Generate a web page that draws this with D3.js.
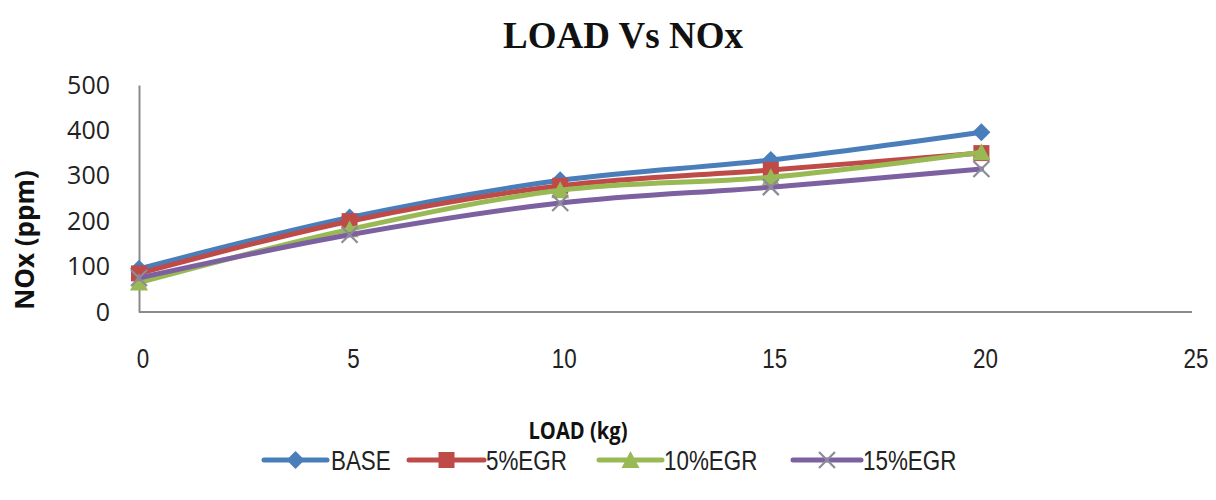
<!DOCTYPE html>
<html>
<head>
<meta charset="utf-8">
<script src="https://cdn.jsdelivr.net/npm/d3@7/dist/d3.min.js"></script>
<style>
  html, body { margin: 0; padding: 0; background: #fff; }
  svg { display: block; }
</style>
</head>
<body>
<svg id="chart" width="1216" height="500"></svg>
<script>
// Load on the engine (kg)
const loads = [0, 5, 10, 15, 20];

// NOx emissions (ppm) per operating mode
const base   = [95, 208, 290, 335, 396];
const egr5   = [85, 200, 278, 313, 350];
const egr10  = [65, 182, 268, 297, 352];
const egr15  = [75, 170, 240, 275, 315];

const seriesNames = ["BASE", "5%EGR", "10%EGR", "15%EGR"];
const xTicks = [0, 5, 10, 15, 20, 25];
const yTicks = [0, 100, 200, 300, 400, 500];

const seriesValues = [base, egr5, egr10, egr15];
const colors = ["#4A7EBB", "#BE4B48", "#98B954", "#7D60A0"];
const markerKinds = ["diamond", "square", "triangle", "cross"];

const svg = d3.select("#chart");

const x = d3.scaleLinear().domain([0, 25]).range([139, 1192]);
const y = d3.scaleLinear().domain([0, 500]).range([312, 85]);

// Title
svg.append("text")
  .attr("x", 623).attr("y", 48)
  .attr("text-anchor", "middle")
  .style("font-family", "'Liberation Serif', 'Times New Roman', serif")
  .style("font-weight", "bold")
  .style("font-size", "37px")
  .attr("fill", "#111")
  .text("LOAD Vs NOx");

// Y axis with labels
const yAxis = d3.axisLeft(y).tickValues(yTicks).tickSize(0).tickPadding(29);
const gy = svg.append("g").attr("transform", `translate(${x(0)},0)`).call(yAxis);
gy.select(".domain").attr("stroke", "#8a8a8a").attr("stroke-width", 2);
gy.selectAll("text")
  .style("font-family", "'Open Sans', 'Liberation Sans', sans-serif")
  .style("font-size", "25px")
  .attr("fill", "#222");

// X axis line
svg.append("line")
  .attr("x1", x(0)).attr("x2", x(25))
  .attr("y1", y(0)).attr("y2", y(0))
  .attr("stroke", "#8a8a8a").attr("stroke-width", 2);

// X tick labels (condensed)
svg.append("g").selectAll("text")
  .data(xTicks)
  .join("text")
  .attr("transform", d => `translate(${x(d) + 4},368) scale(0.8,1)`)
  .attr("text-anchor", "middle")
  .style("font-family", "'Liberation Sans', sans-serif")
  .style("font-size", "28px")
  .attr("fill", "#222")
  .text(d => d);

// Axis titles
svg.append("text")
  .attr("transform", `translate(578,439) scale(0.84,1)`)
  .attr("text-anchor", "middle")
  .style("font-family", "'Open Sans', 'Liberation Sans', sans-serif")
  .style("font-weight", "bold")
  .style("font-size", "24px")
  .attr("fill", "#111")
  .text("LOAD (kg)");

svg.append("text")
  .attr("transform", `translate(34,240) rotate(-90)`)
  .attr("text-anchor", "middle")
  .style("font-family", "'Open Sans', 'Liberation Sans', sans-serif")
  .style("font-weight", "bold")
  .style("font-size", "26px")
  .attr("fill", "#111")
  .text("NOx (ppm)");

// Marker drawing
function drawMarker(g, kind, color, cx, cy) {
  if (kind === "diamond") {
    g.append("path")
      .attr("d", `M${cx},${cy - 9}L${cx + 9},${cy}L${cx},${cy + 9}L${cx - 9},${cy}Z`)
      .attr("fill", color);
  } else if (kind === "square") {
    g.append("rect")
      .attr("x", cx - 8).attr("y", cy - 8).attr("width", 16).attr("height", 16)
      .attr("fill", color);
  } else if (kind === "triangle") {
    g.append("path")
      .attr("d", `M${cx},${cy - 9}L${cx + 9},${cy + 8}L${cx - 9},${cy + 8}Z`)
      .attr("fill", color);
  } else {
    g.append("path")
      .attr("d", `M${cx - 8},${cy - 8}L${cx + 8},${cy + 8}M${cx + 8},${cy - 8}L${cx - 8},${cy + 8}`)
      .attr("stroke", "#8d8a9c").attr("stroke-width", 2.2).attr("fill", "none");
  }
}

const line = d3.line()
  .x(d => x(d[0]))
  .y(d => y(d[1]))
  .curve(d3.curveCatmullRom.alpha(0.5));

seriesValues.forEach((vals, i) => {
  const g = svg.append("g");
  const pts = loads.map((l, j) => [l, vals[j]]);
  g.append("path")
    .datum(pts)
    .attr("d", line)
    .attr("fill", "none")
    .attr("stroke", colors[i])
    .attr("stroke-width", 5)
    .attr("stroke-linejoin", "round")
    .attr("stroke-linecap", "round");
  pts.forEach(p => drawMarker(g, markerKinds[i], colors[i], x(p[0]), y(p[1])));
});

// Legend
const legendItems = [
  { x0: 264, x1: 327, tx: 331 },
  { x0: 409, x1: 484, tx: 486 },
  { x0: 599, x1: 662, tx: 664 },
  { x0: 793, x1: 861, tx: 863 }
];
const ly = 460;
seriesNames.forEach((name, i) => {
  const it = legendItems[i];
  const g = svg.append("g");
  g.append("line")
    .attr("x1", it.x0).attr("x2", it.x1).attr("y1", ly).attr("y2", ly)
    .attr("stroke", colors[i]).attr("stroke-width", 5).attr("stroke-linecap", "round");
  drawMarker(g, markerKinds[i], colors[i], (it.x0 + it.x1) / 2, ly);
  g.append("text")
    .attr("transform", `translate(${it.tx},${ly + 10}) scale(0.8,1)`)
    .style("font-family", "'Liberation Sans', sans-serif")
    .style("font-size", "28px")
    .attr("fill", "#222")
    .text(name);
});
</script>
</body>
</html>
